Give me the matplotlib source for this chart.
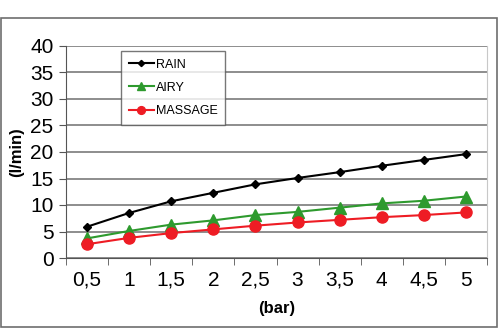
import matplotlib
matplotlib.use("Agg")
from matplotlib import pyplot as plt
from matplotlib.patches import Rectangle

# data
pressure = ["0,5", "1", "1,5", "2", "2,5", "3", "3,5", "4", "4,5", "5"]
rain = [5.9, 8.5, 10.7, 12.3, 13.9, 15.1, 16.2, 17.4, 18.5, 19.6]
airy = [3.7, 5.1, 6.3, 7.1, 8.1, 8.7, 9.5, 10.3, 10.8, 11.6]
massage = [2.6, 3.8, 4.7, 5.4, 6.1, 6.7, 7.2, 7.7, 8.1, 8.6]
yticks = [0, 5, 10, 15, 20, 25, 30, 35, 40]

plt.rcParams['font.family'] = ['Liberation Sans', 'DejaVu Sans']

W, H = 500, 333
fig = plt.figure(figsize=(W / 100, H / 100), dpi=100)
ax = fig.add_axes([66 / W, 1 - 258 / H, (487 - 66) / W, (258 - 46) / H])

# outer frame
fig.patches.append(Rectangle((1 / W, 1 - 327 / H), 496 / W, 309 / H, transform=fig.transFigure,
                             fill=False, edgecolor="#6e6e6e", linewidth=1.2))

x = list(range(len(pressure)))
ax.plot(x, rain, color="black", marker="D", markersize=4.5, linewidth=1.5, label="RAIN")
ax.plot(x, airy, color="#2e9a2e", marker="^", markersize=8, linewidth=1.5, label="AIRY")
ax.plot(x, massage, color="#ee1c24", marker="o", markersize=8, linewidth=1.5, label="MASSAGE")

ax.set_xlim(-0.5, len(pressure) - 0.5)
ax.set_ylim(0, 40)
ax.set_yticks(yticks)
ax.set_xticks(x)
ax.set_xticklabels(pressure)
ax.set_xticks([i - 0.5 for i in range(len(pressure) + 1)], minor=True)
ax.tick_params(axis="x", which="major", length=0, labelsize=15, pad=9)
ax.tick_params(axis="x", which="minor", length=5, color="#555555")
ax.tick_params(axis="y", length=5, color="#555555", labelsize=15, pad=4)
ax.yaxis.grid(True, color="#7a7a7a", linewidth=1.2)
ax.set_axisbelow(True)

ax.spines["top"].set_visible(False)
ax.spines["right"].set_color("#c8c8c8")
ax.spines["left"].set_color("#555555")
ax.spines["bottom"].set_color("#555555")

ax.set_ylabel("(l/min)", fontsize=12, fontweight="bold", labelpad=4)
ax.set_xlabel("(bar)", fontsize=12, fontweight="bold", labelpad=8)

leg = ax.legend(loc="upper left", bbox_to_anchor=((121 - 66) / 421, 1 - 5 / 212), borderaxespad=0,
                fontsize=9, frameon=True, fancybox=False, edgecolor="#555555", markerscale=0.7,
                handlelength=2.0, handletextpad=0.2, labelspacing=0.9, borderpad=0.6)
leg.get_frame().set_linewidth(1.0)

fig.savefig("out.png", dpi=100)
